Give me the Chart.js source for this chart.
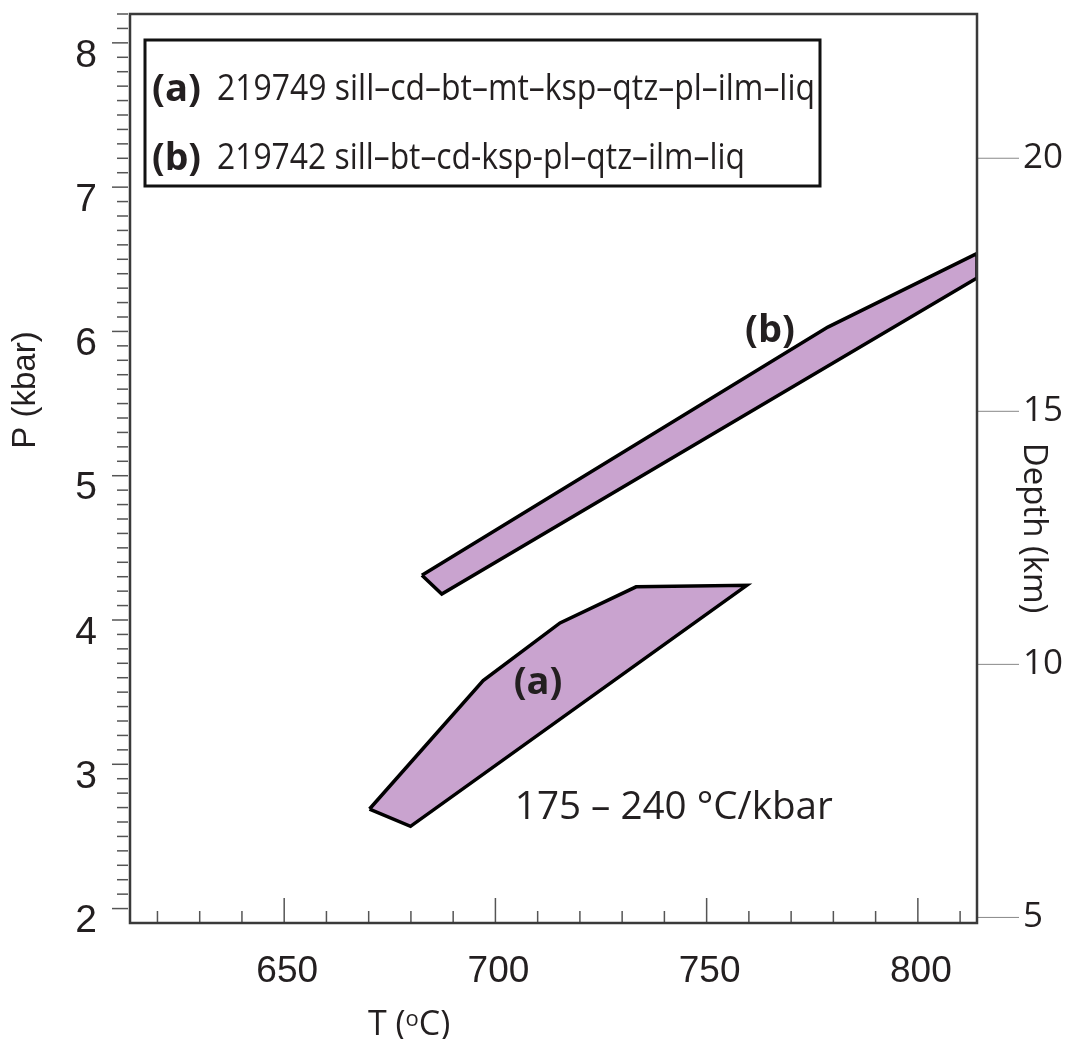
<!DOCTYPE html>
<html>
<head>
<meta charset="utf-8">
<script src="https://cdn.jsdelivr.net/npm/chart.js@4.4.1/dist/chart.umd.min.js"></script>
<style>
  html, body { margin: 0; padding: 0; background: #fff; }
  #wrap { width: 1076px; height: 1039px; }
</style>
</head>
<body>
<div id="wrap"><canvas id="pt" width="1076" height="1039"></canvas></div>
<script>
// stability fields, T in °C and P in kbar (outline closes on its first vertex)
const fieldA_T = [670.2, 679.9, 759.5, 733.3, 715.3, 697.1, 670.2];
const fieldA_P = [2.69, 2.57, 4.24, 4.23, 3.98, 3.58, 2.69];
const fieldB_T = [682.6, 687.3, 814, 814, 778.7, 682.6];
const fieldB_P = [4.31, 4.18, 6.37, 6.54, 6.03, 4.31];

// axes
const tempTicks = [650, 700, 750, 800];
const presTicks = [2, 3, 4, 5, 6, 7, 8];
const depthTicks = [5, 10, 15, 20];

const legendRows = [
  ['(a)', '219749 sill–cd–bt–mt–ksp–qtz–pl–ilm–liq'],
  ['(b)', '219742 sill–bt–cd-ksp-pl–qtz–ilm–liq']
];
const gradientNote = '175 – 240 °C/kbar';

const INK = '#231f20';
const FILL = '#c9a3cf';
const MYRIAD = '"Open Sans", "Noto Sans", sans-serif';
const HELV = '"Liberation Sans", Arial, sans-serif';

function toPoints(ts, ps) {
  return ts.map((t, i) => ({ x: t, y: ps[i] }));
}

function fixedTicks(values) {
  return scale => { scale.ticks = values.map(v => ({ value: v })); };
}

// draws text scaled horizontally to span exactly w pixels
function fitText(ctx, text, x, y, w) {
  const sx = w / ctx.measureText(text).width;
  ctx.save();
  ctx.translate(x, y);
  ctx.scale(sx, 1);
  ctx.fillText(text, 0, 0);
  ctx.restore();
}

const decorations = {
  id: 'decorations',
  afterDraw(chart) {
    const { ctx, chartArea: a, scales } = chart;
    const xs = scales.x, ys = scales.y, ds = scales.y2;
    ctx.save();

    // left ticks, outside, every 0.1 kbar
    ctx.strokeStyle = '#555';
    ctx.lineWidth = 1.5;
    for (let i = 20; i <= 82; i++) {
      const y = ys.getPixelForValue(i / 10);
      const major = i % 10 === 0;
      ctx.beginPath();
      ctx.moveTo(a.left - (major ? 18 : 13), y);
      ctx.lineTo(a.left - 2, y);
      ctx.stroke();
    }

    // bottom ticks, inside, every 10 °C
    for (let t = 620; t <= 810; t += 10) {
      const x = xs.getPixelForValue(t);
      const major = t % 50 === 0;
      ctx.beginPath();
      ctx.moveTo(x, a.bottom);
      ctx.lineTo(x, a.bottom - (major ? 25 : 12));
      ctx.stroke();
    }

    // depth ticks
    ctx.strokeStyle = '#888';
    ctx.lineWidth = 1;
    depthTicks.forEach(d => {
      const y = ds.getPixelForValue(d);
      ctx.beginPath();
      ctx.moveTo(a.right, y);
      ctx.lineTo(a.right + 42, y);
      ctx.stroke();
    });

    // frame
    ctx.strokeStyle = '#3a3a3a';
    ctx.lineWidth = 2.5;
    ctx.strokeRect(a.left, a.top, a.right - a.left, a.bottom - a.top);

    // axis titles
    ctx.fillStyle = INK;
    ctx.textBaseline = 'middle';
    ctx.textAlign = 'center';

    ctx.save();
    ctx.translate(26, 390);
    ctx.rotate(-Math.PI / 2);
    ctx.font = '33px ' + HELV;
    ctx.fillText('P (kbar)', 0, 0);
    ctx.restore();

    ctx.save();
    ctx.translate(1033, 528);
    ctx.rotate(Math.PI / 2);
    ctx.font = '33px ' + MYRIAD;
    ctx.fillText('Depth (km)', 0, 0);
    ctx.restore();

    // T (°C) with a small raised o
    ctx.textAlign = 'left';
    ctx.textBaseline = 'alphabetic';
    ctx.font = '34px ' + MYRIAD;
    let tx = 368;
    const ty = 1035;
    ctx.fillText('T (', tx, ty);
    tx += ctx.measureText('T (').width;
    ctx.font = '22px ' + MYRIAD;
    ctx.fillText('o', tx, ty - 9);
    tx += ctx.measureText('o').width;
    ctx.font = '34px ' + MYRIAD;
    ctx.fillText('C)', tx, ty);

    // legend box
    ctx.lineWidth = 3;
    ctx.strokeStyle = '#111';
    ctx.strokeRect(145, 40, 675, 146);
    const rowY = [100, 169];
    const rowW = [598, 528];
    legendRows.forEach((r, i) => {
      ctx.font = 'bold 38px ' + MYRIAD;
      fitText(ctx, r[0], 152, rowY[i] + 1, 49);
      ctx.font = '37px ' + MYRIAD;
      fitText(ctx, r[1], 217, rowY[i], rowW[i]);
    });

    // field labels
    ctx.font = 'bold 38px ' + MYRIAD;
    ctx.textAlign = 'center';
    ctx.textBaseline = 'middle';
    ctx.fillText('(a)', xs.getPixelForValue(710.1), ys.getPixelForValue(3.56));
    ctx.fillText('(b)', xs.getPixelForValue(765.0), ys.getPixelForValue(6.0));

    ctx.textAlign = 'left';
    ctx.font = '39px ' + MYRIAD;
    fitText(ctx, gradientNote, xs.getPixelForValue(704.6), ys.getPixelForValue(2.70), 318);

    ctx.restore();
  }
};

const fieldStyle = {
  showLine: true,
  fill: 'shape',
  backgroundColor: FILL,
  borderColor: '#000',
  borderWidth: 3.5,
  borderJoinStyle: 'miter',
  pointRadius: 0,
  tension: 0
};

new Chart(document.getElementById('pt'), {
  type: 'scatter',
  data: {
    datasets: [
      Object.assign({ label: '(a)', data: toPoints(fieldA_T, fieldA_P) }, fieldStyle),
      Object.assign({ label: '(b)', data: toPoints(fieldB_T, fieldB_P) }, fieldStyle)
    ]
  },
  options: {
    responsive: false,
    devicePixelRatio: 1,
    animation: false,
    layout: { padding: { top: 14, left: 0, right: 0, bottom: 0 } },
    plugins: { legend: { display: false }, tooltip: { enabled: false } },
    scales: {
      x: {
        type: 'linear',
        min: 613.5,
        max: 814,
        afterBuildTicks: fixedTicks(tempTicks),
        afterFit: s => { s.height = 116; s.paddingLeft = 0; s.paddingRight = 0; },
        grid: { display: false, drawTicks: false },
        border: { display: false },
        ticks: {
          font: { family: HELV, size: 37, lineHeight: 1 },
          color: INK,
          padding: 30,
          labelOffset: 3,
          maxRotation: 0,
          autoSkip: false
        }
      },
      y: {
        type: 'linear',
        position: 'left',
        min: 1.9,
        max: 8.2,
        afterBuildTicks: fixedTicks(presTicks),
        afterFit: s => { s.width = 130; s.paddingTop = 0; s.paddingBottom = 0; },
        grid: { display: false, drawTicks: false },
        border: { display: false },
        ticks: {
          font: { family: HELV, size: 39, lineHeight: 1 },
          color: INK,
          padding: 33,
          labelOffset: 13,
          autoSkip: false
        }
      },
      y2: {
        type: 'linear',
        position: 'right',
        min: 4.89,
        max: 22.85,
        afterBuildTicks: fixedTicks(depthTicks),
        afterFit: s => { s.width = 99; s.paddingTop = 0; s.paddingBottom = 0; },
        grid: { display: false, drawTicks: false },
        border: { display: false },
        ticks: {
          font: { family: MYRIAD, size: 35, lineHeight: 1 },
          color: INK,
          padding: 46,
          autoSkip: false
        }
      }
    }
  },
  plugins: [decorations]
});
</script>
</body>
</html>
